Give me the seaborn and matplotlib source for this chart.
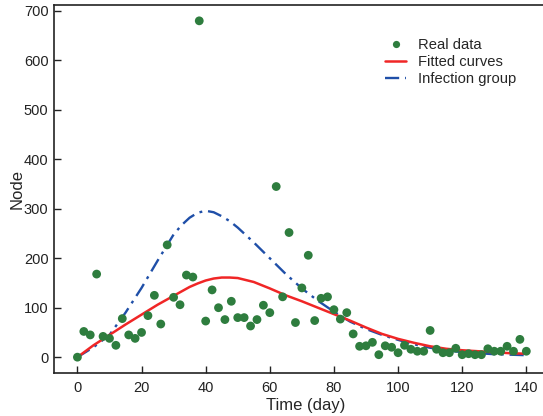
import numpy as np
import pandas as pd
import seaborn as sns
import matplotlib
matplotlib.use("Agg")
import matplotlib.pyplot as plt
from matplotlib.lines import Line2D

# ---- data ----
days = list(range(0, 141, 2))
real_data = [0, 52, 45, 168, 42, 38, 24, 78, 45, 38,
             50, 84, 125, 67, 227, 121, 106, 166, 162, 680,
             73, 136, 100, 76, 113, 80, 80, 63, 76, 105,
             90, 345, 122, 252, 70, 140, 206, 74, 119, 122,
             96, 77, 90, 47, 22, 23, 30, 5, 23, 20,
             9, 24, 16, 12, 12, 54, 16, 9, 9, 18,
             5, 7, 5, 5, 17, 12, 12, 22, 12, 36,
             12]

curve_days = [0, 5, 10, 15, 20, 25, 30, 32.5, 35, 37.5, 40, 42.5, 45, 47.5,
              50, 55, 60, 65, 70, 75, 80, 85, 90, 95, 100, 105, 110, 115,
              120, 125, 130, 135, 140]
fitted = [0, 24, 45, 66, 86, 106, 124, 133, 142, 149, 155, 159, 161, 161,
          160, 152, 139, 125, 113, 100, 87, 74, 60, 47, 37, 29, 22, 17,
          14, 12, 10, 8, 7]
infection = [0, 20, 45, 90, 140, 195, 248, 267, 282, 292, 296, 293, 285, 275,
             262, 232, 200, 168, 139, 114, 92, 72, 57, 45, 35, 26, 19, 14,
             10, 8, 6, 5, 4]

x_ticks = [0, 20, 40, 60, 80, 100, 120, 140]
y_ticks = [0, 100, 200, 300, 400, 500, 600, 700]

sns.set_theme(style="ticks")
plt.rcParams['font.family'] = ['Liberation Sans', 'DejaVu Sans']

fig = plt.figure(figsize=(5.43, 4.16), dpi=100)
ax = fig.add_axes([54 / 543, 43 / 416, (543 - 54) / 543, (373 - 5) / 416])

df_pts = pd.DataFrame({"day": days, "value": real_data})
df_cur = pd.DataFrame({"day": curve_days, "fitted": fitted, "infection": infection})

dashdot = (0, (6, 2.5, 1.2, 2.5))
sns.lineplot(data=df_cur, x="day", y="infection", ax=ax, color="#1f4fa8",
             linewidth=1.7, linestyle=dashdot, zorder=2)
sns.lineplot(data=df_cur, x="day", y="fitted", ax=ax, color="#f02626",
             linewidth=1.8, zorder=3)
sns.scatterplot(data=df_pts, x="day", y="value", ax=ax, color="#2e7d3e",
                s=40, edgecolor="none", zorder=4)

ax.set_xlim(-7.3, 145.2)
ax.set_ylim(-32, 712)
ax.set_xticks(x_ticks)
ax.set_yticks(y_ticks)
ax.tick_params(axis="both", direction="in", length=5, width=1, labelsize=10.5,
               colors="#222222", pad=4)
ax.tick_params(axis="x", pad=6)
for s in ["left", "bottom", "top"]:
    ax.spines[s].set_linewidth(1.2)
    ax.spines[s].set_color("#222222")
ax.spines["right"].set_visible(False)

ax.set_xlabel("Time (day)", fontsize=12)
ax.xaxis.set_label_coords((306 - 54) / 489, -0.068)
ax.set_ylabel("Node", fontsize=12)
ax.yaxis.set_label_coords(-0.061, 0.5)

handles = [
    Line2D([], [], marker="o", linestyle="none", color="#2e7d3e",
           markersize=5.2, markeredgewidth=0),
    Line2D([], [], color="#f02626", linewidth=1.8),
    Line2D([], [], color="#1f4fa8", linewidth=1.7, linestyle=dashdot),
]
labels = ["Real data", "Fitted curves", "Infection group"]
ax.legend(handles, labels, loc="upper left",
          bbox_to_anchor=((385 - 54) / 489, (373 - 38) / 368),
          frameon=False, fontsize=10.6, handlelength=1.45, handletextpad=0.8,
          borderpad=0, borderaxespad=0, labelspacing=0.22)

fig.savefig("out.png", dpi=100)
